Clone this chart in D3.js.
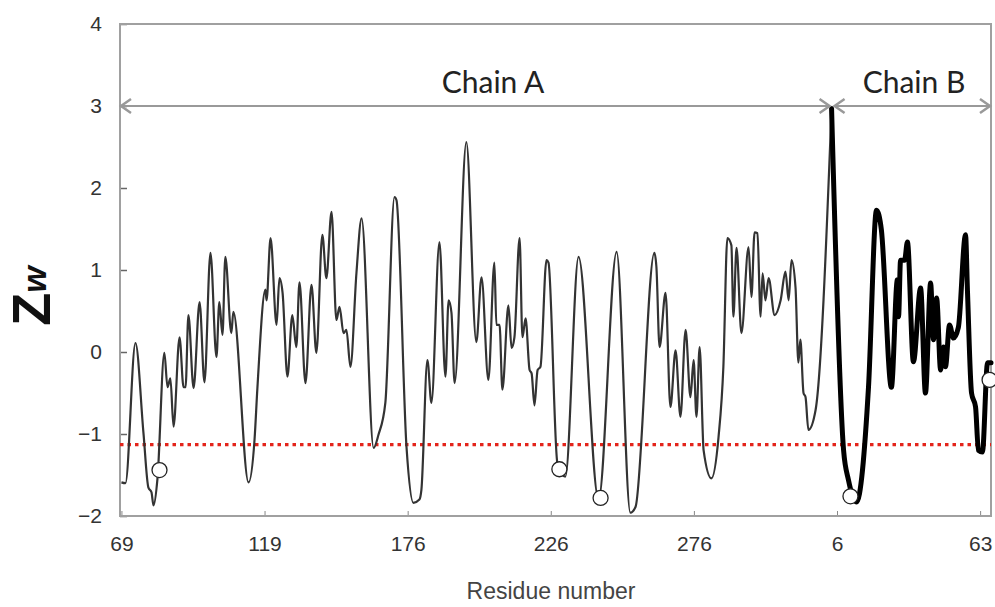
<!DOCTYPE html>
<html>
<head>
<meta charset="utf-8">
<script src="https://cdn.jsdelivr.net/npm/d3@7"></script>
<style>
  html, body { margin: 0; padding: 0; background: #fff; }
  svg { display: block; }
</style>
</head>
<body>
<svg id="chart" width="995" height="607"></svg>
<script>
// Z_W profile along the sequence: chain A followed by chain B.
// Sequence positions are running indices along the concatenated chains.
const seqA = [0, 1.4, 4.9, 7.7, 9.4, 10.5, 11.2, 12.6, 15.0, 16.1, 17.1, 18.2, 20.3, 21.7, 22.4, 23.4,
  25.2, 27.3, 29.0, 31.1, 33.2, 34.2, 35.3, 36.3, 38.4, 39.1, 44.4, 46.5, 47.5, 50.3, 50.7, 52.1,
  54.2, 55.2, 56.3, 58.0, 59.7, 61.1, 62.2, 64.3, 66.4, 68.1, 70.2, 71.6, 73.4, 75.1, 76.2, 77.6,
  78.6, 80.0, 82.1, 83.9, 88.1, 89.8, 92.2, 95.4, 96.1, 99.6, 102.0, 104.1, 104.8, 106.9, 108.3,
  111.1, 113.2, 114.3, 115.3, 116.4, 120.5, 124.0, 125.8, 128.2, 130.3, 131.0, 132.1, 133.1, 135.2,
  136.3, 137.3, 139.1, 140.1, 141.2, 142.6, 143.3, 144.3, 145.4, 146.4, 148.5, 149.2, 152.3, 155.1,
  159.7, 166.7, 173.0, 177.8, 179.6, 186.2, 186.9, 188.0, 190.1, 191.8, 193.6, 195.3, 197.1, 198.8,
  199.9, 200.9, 202.0, 203.4, 206.1, 208.6, 210.3, 211.7, 213.1, 213.8, 214.9, 216.6, 219.1, 220.1,
  221.2, 222.2, 223.3, 224.0, 225.0, 226.1, 228.2, 230.3, 232.0, 233.1, 234.1, 235.5, 236.5, 237.2,
  238.3, 239.0, 240.0, 242.5, 248.1];
const zwA = [-1.59, -1.60, 0.11, -0.99, -1.65, -1.71, -1.87, -1.54, -0.01, -0.43, -0.32, -0.91, 0.18, -0.43, -0.43, 0.45,
  -0.44, 0.61, -0.37, 1.21, -0.06, 0.61, 0.21, 1.16, 0.23, 0.49, -1.59, -1.07, -0.44, 0.76, 0.63, 1.39,
  0.33, 0.90, 0.72, -0.30, 0.45, 0.06, 0.85, -0.38, 0.82, -0.01, 1.43, 0.90, 1.71, 0.39, 0.55, 0.23,
  0.27, -0.18, 0.96, 1.63, -1.17, -1.01, -0.62, 1.89, 1.85, -1.16, -1.84, -1.80, -1.68, -0.10, -0.62,
  1.34, -0.30, 0.63, 0.48, -0.38, 2.56, 0.12, 0.91, -0.34, 1.09, 0.33, 0.33, -0.46, 0.57,
  0.05, 0.18, 1.39, 0.18, 0.41, -0.22, -0.26, -0.65, -0.22, -0.18, 1.12, 1.09, -1.35, -1.52,
  1.16, -1.80, 1.22, -1.96, -1.89, 1.21, 1.04, 0.06, 0.72, -0.67, 0.02, -0.79, 0.27, -0.55,
  -0.10, -0.79, 0.06, -1.20, -1.54, -1.04, -0.18, 1.39, 1.30, 0.43, 1.27, 0.23, 1.28, 0.67,
  1.46, 1.45, 0.43, 0.96, 0.63, 0.90, 0.45, 0.63, 0.98, 0.63, 1.12, 0.79, -0.13, 0.15,
  -0.50, -0.55, -0.95, -0.71, 2.97];

const seqB = [248.1, 252.3, 254.0, 256.8, 261.0, 263.8, 265.5, 269.0, 271.1, 271.5, 272.2, 273.6, 274.6,
  276.7, 279.2, 280.9, 282.7, 283.7, 284.8, 286.2, 287.2, 287.9, 289.3, 290.7, 292.4, 294.9, 295.6,
  297.0, 298.4, 299.4, 300.8, 302.6, 303.8];
const zwB = [2.97, -1.20, -1.56, -1.83, -0.43, 1.73, 1.49, -0.43, 0.88, 0.43, 1.12, 1.12, 1.34,
  -0.12, 0.78, -0.50, 0.84, 0.15, 0.66, -0.22, 0.06, -0.18, 0.33, 0.17, 0.30, 1.43, 0.72,
  -0.50, -0.67, -1.20, -1.22, -0.13, -0.13];

// Highlighted residues (open circles)
const markSeq = [13.3, 153.0, 167.4, 254.7, 303.3];
const markZw = [-1.44, -1.43, -1.78, -1.76, -0.34];

// Threshold line
const threshold = -1.13;

// Axis ticks
const xTickSeq = [0, 50, 100, 150, 200, 250, 300];
const xTickLabels = ["69", "119", "176", "226", "276", "6", "63"];
const yTicks = [-2, -1, 0, 1, 2, 3, 4];

const chainNames = ["Chain A", "Chain B"];

(function draw() {
  const svg = d3.select("#chart");
  const mLeft = 120, mRight = 991, mTop = 24, mBottom = 516;

  const x = d3.scaleLinear().domain([-0.5, 303.8]).range([mLeft, mRight]);
  const y = d3.scaleLinear().domain([-2, 4]).range([mBottom, mTop]);

  const frameColor = "#a0a0a0";

  // Y axis: inward ticks, labels on the left
  const yAxis = d3.axisLeft(y).tickValues(yTicks).tickSize(-7).tickPadding(18)
    .tickFormat(d3.format("d"));
  const gy = svg.append("g").attr("transform", `translate(${mLeft},0)`).call(yAxis);
  gy.select(".domain").remove();
  gy.selectAll(".tick line").attr("stroke", "#666").attr("stroke-width", 1.5);
  gy.selectAll(".tick text").attr("font-family", "Liberation Sans, Arial, sans-serif")
    .attr("font-size", 21).attr("fill", "#333");

  // X axis: inward ticks, category-style labels
  const xAxis = d3.axisBottom(x).tickValues(xTickSeq).tickSize(-5).tickPadding(20)
    .tickFormat((d, i) => xTickLabels[i]);
  const gx = svg.append("g").attr("transform", `translate(0,${mBottom})`).call(xAxis);
  gx.select(".domain").remove();
  gx.selectAll(".tick line").attr("stroke", "#888").attr("stroke-width", 1);
  gx.selectAll(".tick text").attr("font-family", "Liberation Sans, Arial, sans-serif")
    .attr("font-size", 21).attr("fill", "#333");

  // Plot frame
  svg.append("rect")
    .attr("x", mLeft).attr("y", mTop)
    .attr("width", mRight - mLeft).attr("height", mBottom - mTop)
    .attr("fill", "none").attr("stroke", frameColor).attr("stroke-width", 2);

  // Threshold (dotted red)
  svg.append("line")
    .attr("x1", mLeft).attr("x2", mRight)
    .attr("y1", y(threshold)).attr("y2", y(threshold))
    .attr("stroke", "#e3241b").attr("stroke-width", 3.2)
    .attr("stroke-dasharray", "3.5,4");

  // Profile lines
  const line = d3.line()
    .x(d => x(d[0])).y(d => y(d[1]))
    .curve(d3.curveMonotoneX);

  const dataA = seqA.map((s, i) => [s, zwA[i]]);
  const dataB = seqB.map((s, i) => [s, zwB[i]]);

  svg.append("path").datum(dataA)
    .attr("d", line).attr("fill", "none")
    .attr("stroke", "#333").attr("stroke-width", 2.2)
    .attr("stroke-linejoin", "round");

  svg.append("path").datum(dataB)
    .attr("d", line).attr("fill", "none")
    .attr("stroke", "#000").attr("stroke-width", 5)
    .attr("stroke-linejoin", "round").attr("stroke-linecap", "round");

  // Highlighted residues
  svg.selectAll("circle.mark")
    .data(markSeq.map((s, i) => [s, markZw[i]]))
    .join("circle")
    .attr("class", "mark")
    .attr("cx", d => x(d[0])).attr("cy", d => y(d[1]))
    .attr("r", 7.5)
    .attr("fill", "#fff").attr("stroke", "#222").attr("stroke-width", 1.3);

  // Chain extent arrows at Z_W = 3
  const arrowY = y(3);
  const boundary = x(seqB[0]);
  const spans = [[mLeft + 1, boundary - 2], [boundary + 3, mRight - 1]];
  const arrowColor = "#999";
  const head = 10, spread = 7;

  spans.forEach(([a, b]) => {
    svg.append("line")
      .attr("x1", a).attr("x2", b).attr("y1", arrowY).attr("y2", arrowY)
      .attr("stroke", arrowColor).attr("stroke-width", 2.2);
    svg.append("path")
      .attr("d", `M${a + head},${arrowY - spread}L${a},${arrowY}L${a + head},${arrowY + spread}`)
      .attr("fill", "none").attr("stroke", arrowColor).attr("stroke-width", 2.5);
    svg.append("path")
      .attr("d", `M${b - head},${arrowY - spread}L${b},${arrowY}L${b - head},${arrowY + spread}`)
      .attr("fill", "none").attr("stroke", arrowColor).attr("stroke-width", 2.5);
  });

  // Chain labels
  svg.append("text")
    .attr("x", 493).attr("y", 93)
    .attr("text-anchor", "middle")
    .attr("font-family", "Lato, 'Open Sans', sans-serif").attr("font-size", 30)
    .attr("fill", "#222").text(chainNames[0]);
  svg.append("text")
    .attr("x", 914).attr("y", 93)
    .attr("text-anchor", "middle")
    .attr("font-family", "Lato, 'Open Sans', sans-serif").attr("font-size", 30)
    .attr("fill", "#222").text(chainNames[1]);

  // Axis titles
  svg.append("text")
    .attr("x", 551).attr("y", 599)
    .attr("text-anchor", "middle")
    .attr("font-family", "Liberation Sans, Arial, sans-serif").attr("font-size", 23)
    .attr("fill", "#444").text("Residue number");

  const yt = svg.append("text")
    .attr("transform", "translate(50,296) rotate(-90)")
    .attr("text-anchor", "middle")
    .attr("font-family", "Liberation Sans, Arial, sans-serif")
    .attr("fill", "#111");
  yt.append("tspan").attr("font-size", 54).attr("font-weight", "bold").text("Z");
  yt.append("tspan").attr("font-size", 34).attr("font-weight", "bold")
    .attr("font-style", "italic").attr("dy", -4).text("w");
})();
</script>
</body>
</html>
